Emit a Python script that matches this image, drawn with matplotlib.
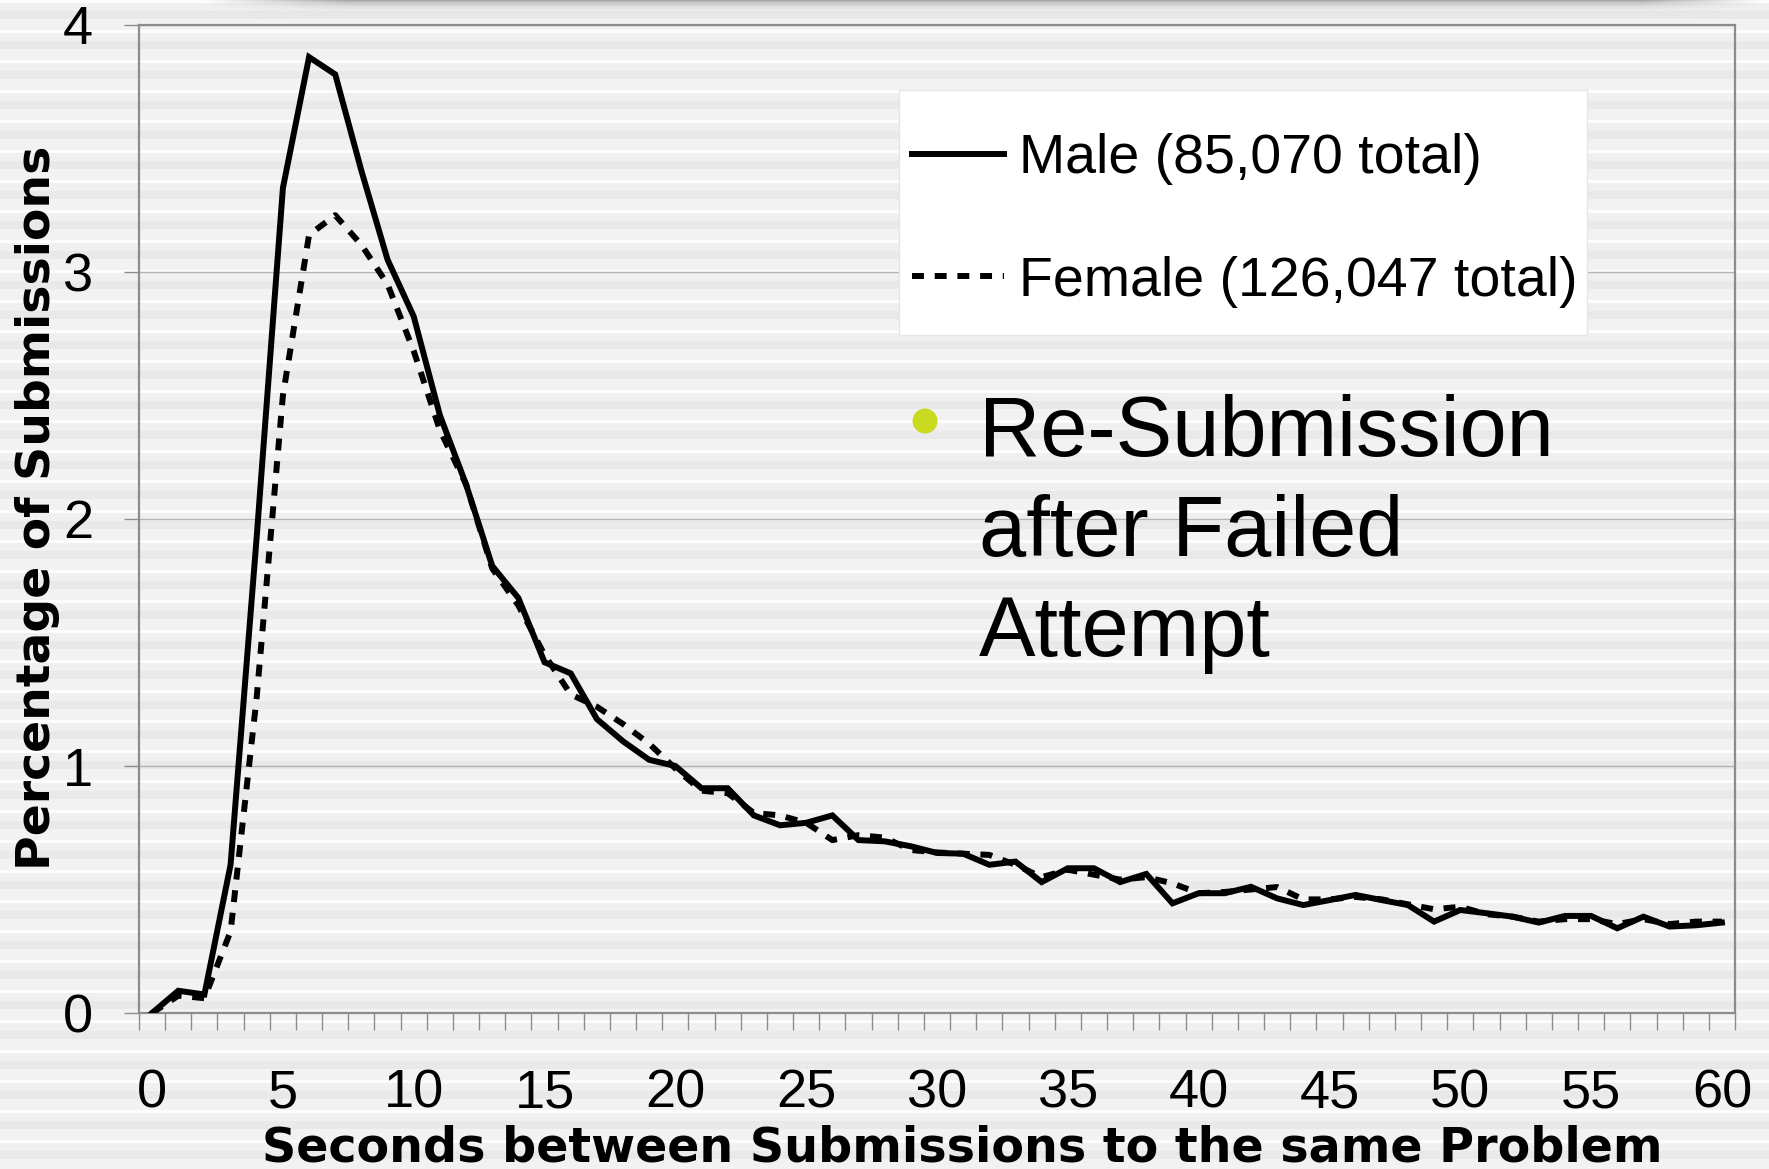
import numpy as np
import matplotlib
matplotlib.use("Agg")
import matplotlib.pyplot as plt
from matplotlib.patches import Ellipse, Rectangle
from matplotlib.ticker import FixedLocator

# percentage of re-submissions by gap (seconds) after a failed attempt
seconds = list(range(61))
male = [0.00, 0.09, 0.075, 0.60, 1.93, 3.34, 3.87, 3.80, 3.41, 3.05,
        2.82, 2.42, 2.14, 1.81, 1.68, 1.42, 1.375, 1.19, 1.10, 1.025,
        1.00, 0.91, 0.91, 0.80, 0.76, 0.77, 0.80, 0.70, 0.695, 0.675,
        0.648, 0.645, 0.60, 0.613, 0.53, 0.586, 0.586, 0.53, 0.563, 0.444,
        0.485, 0.485, 0.511, 0.464, 0.437, 0.457, 0.478, 0.457, 0.437, 0.37,
        0.417, 0.404, 0.39, 0.366, 0.393, 0.393, 0.343, 0.39, 0.35, 0.355,
        0.366]
female = [0.00, 0.07, 0.06, 0.33, 1.28, 2.50, 3.15, 3.23, 3.11, 2.95,
          2.68, 2.36, 2.14, 1.80, 1.65, 1.45, 1.29, 1.24, 1.17, 1.09,
          0.99, 0.90, 0.89, 0.81, 0.80, 0.77, 0.70, 0.72, 0.71, 0.66,
          0.65, 0.645, 0.64, 0.60, 0.55, 0.58, 0.56, 0.54, 0.55, 0.525,
          0.485, 0.49, 0.50, 0.51, 0.46, 0.46, 0.47, 0.46, 0.44, 0.42,
          0.43, 0.40, 0.39, 0.37, 0.38, 0.38, 0.36, 0.38, 0.36, 0.37,
          0.37]
series_labels = ["Male (85,070 total)", "Female (126,047 total)"]
x_ticks = list(range(0, 61, 5))
y_ticks = [0, 1, 2, 3, 4]
note_lines = ["Re-Submission", "after Failed", "Attempt"]

W, H = 1769, 1169
sans = ["Liberation Sans", "DejaVu Sans"]

fig = plt.figure(figsize=(W / 100, H / 100), dpi=100)

# striped slide background with a soft shadow along the top edge
rows = np.arange(H) % 30
shade = np.select([rows < 3, rows < 11, rows < 19], [0.995, 0.945, 0.915], 0.95)
bg = np.repeat(shade[:, None], W, axis=1)
yy = np.arange(H)[:, None]
xx = np.arange(W)[None, :]
edge = np.clip((xx - 200) / 150, 0, 1) * np.clip((1760 - xx) / 120, 0, 1)
bg = bg * (1 - 0.35 * np.exp(-yy / 4.0) * edge)
bg_ax = fig.add_axes([0, 0, 1, 1], zorder=-10)
bg_ax.imshow(np.dstack([bg] * 3), aspect="auto", extent=(0, 1, 0, 1))
bg_ax.axis("off")

ax = fig.add_axes([139 / W, 1 - 1013 / H, (1735 - 139) / W, (1013 - 25) / H])
ax.patch.set_alpha(0)

ax.plot(seconds, male, color="black", lw=4.3, solid_joinstyle="miter",
        label=series_labels[0], zorder=3)
ax.plot(seconds, female, color="black", lw=4.3, linestyle=(0, (2, 1.8)),
        dash_capstyle="butt", label=series_labels[1], zorder=3)

ax.set_xlim(-0.5, 60.5)
ax.set_ylim(0, 4)
ax.set_xticks(x_ticks)
ax.xaxis.set_minor_locator(FixedLocator(np.arange(-0.5, 61, 1)))
ax.set_yticks(y_ticks)
ax.yaxis.grid(True, color="#b4b4b4", lw=1.0)
ax.set_axisbelow(True)

for s in ax.spines.values():
    s.set_color("#8c8c8c")
    s.set_linewidth(1.6)

ax.tick_params(axis="x", which="major", length=0, pad=40, labelsize=39)
ax.tick_params(axis="x", which="minor", length=12, width=1.0, color="#8c8c8c",
               direction="out")
ax.tick_params(axis="y", which="major", length=11, width=1.0, color="#8c8c8c",
               pad=22, labelsize=39)
for lab in ax.get_xticklabels() + ax.get_yticklabels():
    lab.set_family(sans)

ax.set_xlabel("Seconds between Submissions to the same Problem",
              fontsize=34.3, fontweight="bold", family="DejaVu Sans", va="baseline")
ax.xaxis.set_label_coords((962 - 139) / 1596, (1013 - 1161) / 988)
ax.set_ylabel("Percentage of Submissions", fontsize=34, fontweight="bold",
              family="DejaVu Sans", va="center")
ax.yaxis.set_label_coords((38 - 139) / 1596, (1013 - 508) / 988)

# white legend panel, legend entries laid over it
ax.add_patch(Rectangle((899 / W, 1 - 335 / H), (1587 - 899) / W, (335 - 90) / H,
                       transform=fig.transFigure, facecolor="white",
                       edgecolor="#e6e6e6", lw=1.0, zorder=4, clip_on=False))
leg = ax.legend(loc="upper left", bbox_to_anchor=(912 / W, 1 - 133 / H),
                bbox_transform=fig.transFigure, borderaxespad=0, borderpad=0,
                prop={"family": sans, "size": 40}, frameon=False,
                labelspacing=1.27, handlelength=1.65, handletextpad=0.27)
leg.set_zorder(5)

# slide bullet text over the chart
fig.patches.append(Ellipse((925 / W, 1 - 421 / H), 25 / W, 25 / H,
                           transform=fig.transFigure, facecolor="#c9da20",
                           edgecolor="none"))
for i, line in enumerate(note_lines):
    fig.text(979 / W, 1 - (456 + 100 * i) / H, line, fontsize=61,
             family=sans, va="baseline", ha="left")

fig.savefig("out.png", dpi=100)
